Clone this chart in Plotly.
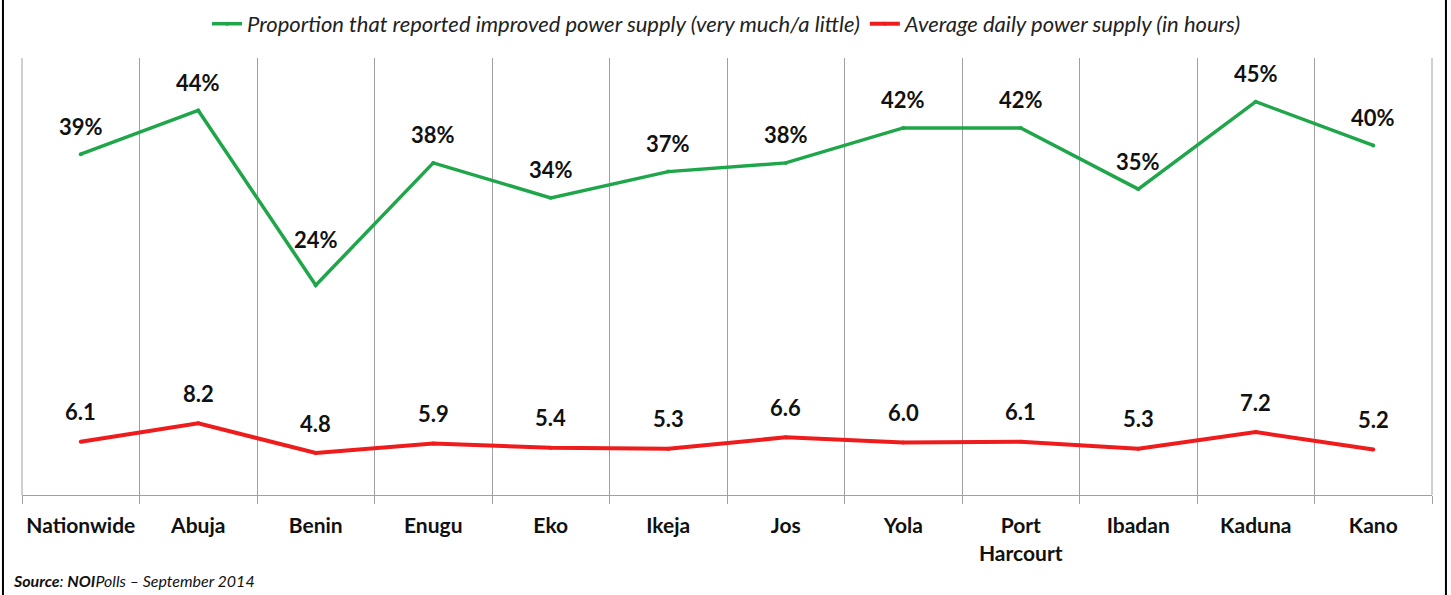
import plotly.graph_objects as go

categories = ["Nationwide", "Abuja", "Benin", "Enugu", "Eko", "Ikeja", "Jos",
              "Yola", "Port<br>Harcourt", "Ibadan", "Kaduna", "Kano"]
improved_pct = [39, 44, 24, 38, 34, 37, 38, 42, 42, 35, 45, 40]
daily_hours = [6.1, 8.2, 4.8, 5.9, 5.4, 5.3, 6.6, 6.0, 6.1, 5.3, 7.2, 5.2]
series_names = ["Proportion that reported improved power supply (very much/a little)",
                "Average daily power supply (in hours)"]

GREEN = "#1fa64a"
RED = "#ee1c1c"
FONT = "Lato, Open Sans, sans-serif"
label_shift_extra = {"Benin": 18}  # label nudged further up to clear the line

fig = go.Figure()
fig.add_trace(go.Scatter(x=categories, y=improved_pct, mode="lines+markers",
                         name=series_names[0],
                         line=dict(color=GREEN, width=3.5),
                         marker=dict(size=4, color=GREEN)))
fig.add_trace(go.Scatter(x=categories, y=daily_hours, mode="lines+markers",
                         name=series_names[1],
                         line=dict(color=RED, width=4),
                         marker=dict(size=4, color=RED)))

annotations = []
for c, v in zip(categories, improved_pct):
    annotations.append(dict(x=c, y=v, text=f"<b>{v}%</b>", showarrow=False,
                            yshift=28 + label_shift_extra.get(c, 0),
                            font=dict(size=22, color="#111", family=FONT)))
for c, v in zip(categories, daily_hours):
    annotations.append(dict(x=c, y=v, text=f"<b>{v:.1f}</b>", showarrow=False,
                            yshift=30, font=dict(size=22, color="#111", family=FONT)))
annotations.append(dict(xref="paper", yref="paper", x=-0.0075, y=-0.195,
                        xanchor="left", yanchor="middle", showarrow=False,
                        text="<b><i>Source</i></b><i>: </i><b><i>NOI</i></b><i>Polls – September 2014</i>",
                        font=dict(size=16, color="#111", family=FONT)))

fig.update_layout(
    width=1451, height=595,
    margin=dict(l=22, r=19, t=58, b=100, autoexpand=False),
    paper_bgcolor="white", plot_bgcolor="white",
    font=dict(family=FONT, color="#111"),
    showlegend=True,
    legend=dict(orientation="h", x=0.5, xanchor="center", y=1.078, yanchor="middle",
                font=dict(size=22, color="#222", family=FONT, style="italic"),
                bgcolor="rgba(0,0,0,0)"),
    annotations=annotations,
    xaxis=dict(type="category", range=[-0.5, 11.5], tickson="boundaries",
               tickmode="array", tickvals=categories,
               ticktext=[f"<b>{c}</b>" for c in categories],
               tickangle=0,
               showgrid=True, gridcolor="#a0a0a0", gridwidth=1,
               ticks="outside", ticklen=8, tickcolor="#a0a0a0",
               ticklabelstandoff=12,
               showline=True, linecolor="#a0a0a0", linewidth=1, automargin=False,
               tickfont=dict(size=21, color="#111", family=FONT), zeroline=False),
    yaxis=dict(range=[0, 50], showgrid=False, showticklabels=False, zeroline=False,
               showline=False, automargin=False),
    shapes=[
        dict(type="line", xref="paper", yref="paper", x0=-0.0135, x1=-0.0135, y0=-0.25, y1=1.15,
             line=dict(color="black", width=2)),
        dict(type="line", xref="paper", yref="paper", x0=1.0099, x1=1.0099, y0=-0.25, y1=1.15,
             line=dict(color="black", width=2)),
        dict(type="line", xref="paper", yref="paper", x0=0, x1=0, y0=0, y1=1,
             line=dict(color="#a0a0a0", width=1)),
        dict(type="line", xref="paper", yref="paper", x0=1, x1=1, y0=0, y1=1,
             line=dict(color="#a0a0a0", width=1)),
    ],
)

fig.write_html("out.html", config={"displayModeBar": False},
               post_script="document.body.style.margin='0';document.body.style.overflow='hidden';")
